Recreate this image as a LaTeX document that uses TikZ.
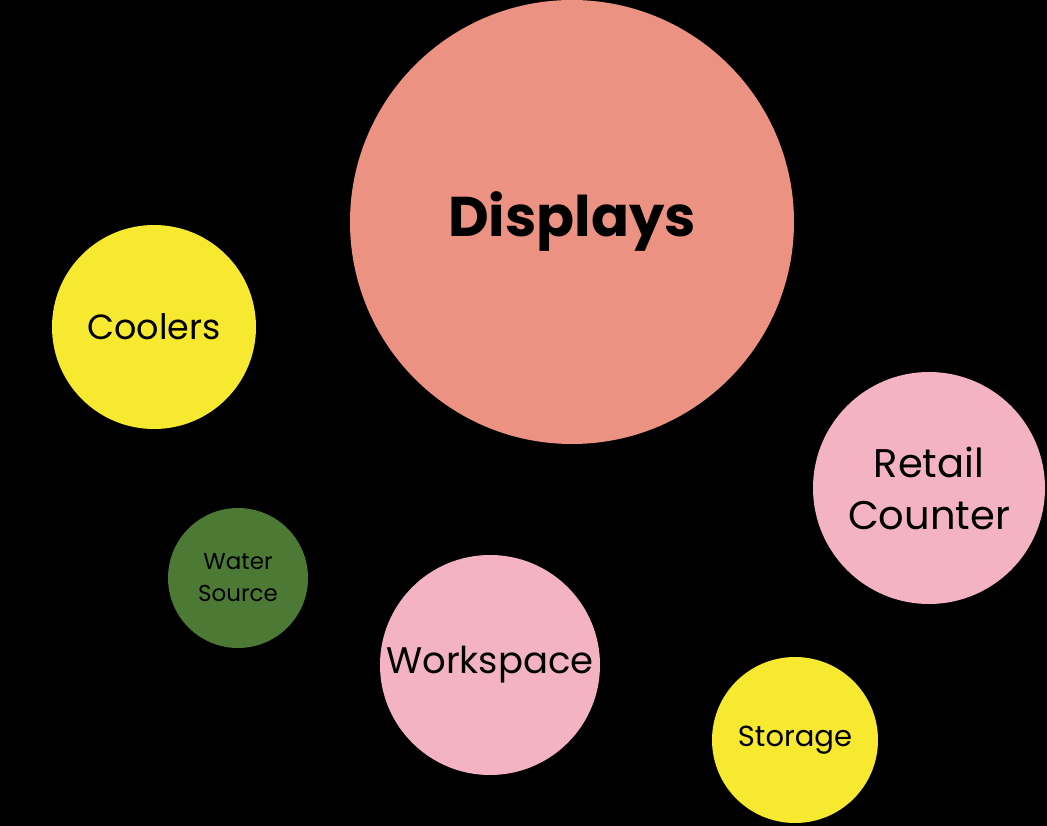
\documentclass[tikz,border=0pt]{standalone}
\usepackage{fontspec}
\setmainfont{Poppins}
\definecolor{salmon}{HTML}{EC9283}
\definecolor{yel}{HTML}{F7E830}
\definecolor{pink}{HTML}{F4B3C2}
\definecolor{grn}{HTML}{4C7A35}
\tikzset{
  bubble/.style={circle, inner sep=0pt, align=center, text=black},
}
\begin{document}
\begin{tikzpicture}[x=1pt,y=-1pt]
\fill[black] (0,0) rectangle (1047,826);
\useasboundingbox (0,0) rectangle (1047,826);
\node[bubble, fill=salmon, minimum size=444pt, font=\fontsize{56}{64}\selectfont\bfseries] (displays) at (572,222) {Displays};
\node[bubble, fill=yel, minimum size=204pt, font=\fontsize{35}{40}\selectfont] (coolers) at (154,327) {Coolers};
\node[bubble, fill=pink, minimum size=232pt, font=\fontsize{40}{52}\selectfont] (retail) at (929,488) {Retail\\Counter};
\node[bubble, fill=grn, minimum size=140pt, font=\fontsize{23}{32}\selectfont] (water) at (238,578) {Water\\Source};
\node[bubble, fill=pink, minimum size=220pt, font=\fontsize{37}{44}\selectfont] (workspace) at (490,665) {Workspace};
\node[bubble, fill=yel, minimum size=166pt, font=\fontsize{29}{34}\selectfont] (storage) at (795,740) {Storage};
\end{tikzpicture}
\end{document}
